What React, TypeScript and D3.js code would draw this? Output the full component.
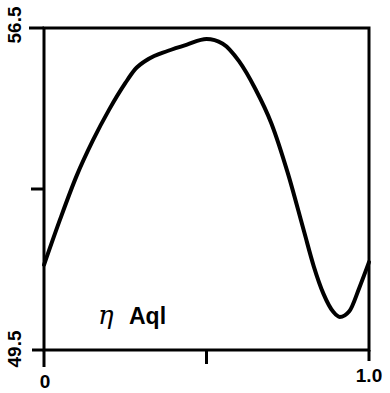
import React from "react";
import * as d3 from "d3";

const phase = [0.0, 0.05, 0.1, 0.15, 0.2, 0.25, 0.28, 0.32, 0.38, 0.44, 0.5, 0.55, 0.6, 0.65, 0.7, 0.75, 0.8, 0.83, 0.86, 0.89, 0.91, 0.94, 0.97, 1.0];
const value = [51.35, 52.35, 53.28, 54.05, 54.72, 55.3, 55.6, 55.82, 56.0, 56.14, 56.26, 56.16, 55.78, 55.18, 54.42, 53.35, 52.08, 51.32, 50.72, 50.33, 50.22, 50.35, 50.85, 51.41];
const yTicks = [49.5, 53, 56.5];
const yTickLabels = ["49.5", "", "56.5"];
const xTicks = [0, 0.5, 1.0];
const xTickLabels = ["0", "", "1.0"];
const label = "Aql";

export default function App() {
  const W = 390, H = 393;
  const x = d3.scaleLinear().domain([0, 1]).range([44, 369]);
  const y = d3.scaleLinear().domain([49.5, 56.5]).range([350, 28]);
  const line = d3
    .line<number>()
    .x((_, i) => x(phase[i]))
    .y((d) => y(d))
    .curve(d3.curveMonotoneX);
  const font = "'Liberation Sans', Arial, sans-serif";
  const tickLen = [12, 13, 15];
  const xLabelY = [388, 0, 382];
  return (
    <svg width={W} height={H} style={{ position: "absolute", left: 0, top: 0, background: "#fff" }}>
      <rect x={x(0)} y={y(56.5)} width={x(1) - x(0)} height={y(49.5) - y(56.5)} fill="none" stroke="#000" strokeWidth={3} />
      {yTicks.map((t, i) => (
        <g key={"y" + i}>
          <line x1={x(0) - tickLen[i]} x2={x(0)} y1={y(t)} y2={y(t)} stroke="#000" strokeWidth={3} />
          {yTickLabels[i] && (
            <text
              transform={`translate(${21},${i === 0 ? y(t) - 1 : 25}) rotate(-90)`}
              textAnchor="middle"
              fontFamily={font}
              fontWeight="bold"
              fontSize={19}
              fill="#000"
            >
              {yTickLabels[i]}
            </text>
          )}
        </g>
      ))}
      {xTicks.map((t, i) => (
        <g key={"x" + i}>
          <line x1={x(t)} x2={x(t)} y1={y(49.5)} y2={y(49.5) + (i === 0 ? 17 : i === 1 ? 14 : 11)} stroke="#000" strokeWidth={3} />
          {xTickLabels[i] && (
            <text x={x(t) + (i === 2 ? 0 : 1)} y={xLabelY[i]} textAnchor="middle" fontFamily={font} fontWeight="bold" fontSize={19} fill="#000">
              {xTickLabels[i]}
            </text>
          )}
        </g>
      ))}
      <path d={line(value) || ""} fill="none" stroke="#000" strokeWidth={4} strokeLinejoin="round" strokeLinecap="round" />
      <text x={98} y={324} fontFamily="'DejaVu Serif', serif" fontStyle="italic" fontSize={26} fill="#000">η</text>
      <text x={129} y={324} fontFamily={font} fontWeight="bold" fontSize={23} fill="#000">{label}</text>
    </svg>
  );
}
